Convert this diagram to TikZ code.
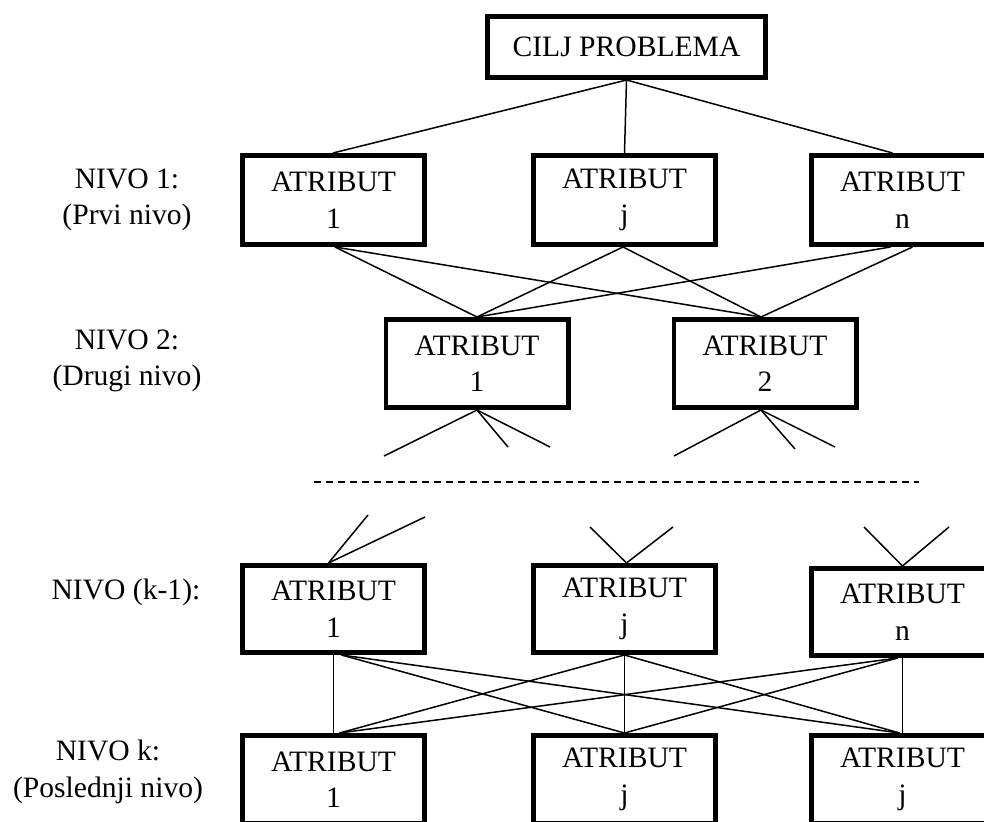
\documentclass[tikz,border=0pt]{standalone}
\usepackage{fontspec}
\setmainfont{Liberation Serif}
\newcommand\fsz{\fontsize{29.6bp}{36.5bp}\selectfont}
\begin{document}
\begin{tikzpicture}[x=1bp,y=-1bp,
  box/.style={draw, line width=4.8bp, inner sep=0pt, align=center,
              minimum width=182.2bp, minimum height=88.2bp, font=\fsz},
  lbl/.style={align=center, inner sep=0pt, font=\fsz},
  conn/.style={line width=1.5bp},
  dashline/.style={line width=1.5bp, dash pattern=on 7bp off 5bp}]
\clip (0,0) rectangle (984,822);
\fill[white] (0,0) rectangle (984,822);

% top
\node[box, minimum width=278.2bp, minimum height=61.2bp] (goal) at (626.5,47) {CILJ PROBLEMA};

% level 1
\node[box, minimum height=89.2bp] (a1) at (333.5,200) {ATRIBUT\\1};
\node[box, minimum height=89.2bp] (aj) at (624.5,200) {ATRIBUT\\j};
\node[box, minimum height=89.2bp] (an) at (902.5,200) {ATRIBUT\\n};
\node[lbl] (lab1) at (127,200) {NIVO 1:\\(Prvi nivo)};

% level 2
\node[box] (b1) at (477,363.5) {ATRIBUT\\1};
\node[box] (b2) at (765,363.5) {ATRIBUT\\2};
\node[lbl] (lab2) at (127,361) {NIVO 2:\\(Drugi nivo)};

% level k-1
\node[box, minimum height=87.2bp] (c1) at (333.5,609) {ATRIBUT\\1};
\node[box, minimum height=87.2bp] (cj) at (624.5,609) {ATRIBUT\\j};
\node[box, minimum height=87.2bp] (cn) at (902.5,612) {ATRIBUT\\n};
\node[lbl] (lab3) at (126,592) {NIVO (k-1):};

% level k
\node[box] (e1) at (333.5,779.5) {ATRIBUT\\1};
\node[box] (ej) at (624.5,779.5) {ATRIBUT\\j};
\node[box] (en) at (902.5,779.5) {ATRIBUT\\j};
\node[lbl] (lab4) at (108,772) {NIVO k:\\(Poslednji nivo)};

% goal to level 1
\draw[conn] (goal.south) -- ([xshift=-0.5bp]a1.north);
\draw[conn] (goal.south) -- (aj.north);
\draw[conn] (goal.south) -- ([xshift=-10bp]an.north);

% level 1 to level 2
\draw[conn] ([xshift=1.5bp]a1.south) -- (b1.north);
\draw[conn] ([xshift=1.5bp]a1.south) -- ([xshift=-4bp]b2.north);
\draw[conn] ([xshift=-1.5bp]aj.south) -- (b1.north);
\draw[conn] ([xshift=-1.5bp]aj.south) -- ([xshift=-4bp]b2.north);
\draw[conn] ([xshift=-12bp]an.south) -- (b1.north);
\draw[conn] ([xshift=10bp]an.south) -- ([xshift=-4bp]b2.north);

% fans below level 2
\coordinate (fa1) at (384,456);
\coordinate (fa2) at (508,447);
\coordinate (fa3) at (550,447);
\coordinate (fb1) at (674,456);
\coordinate (fb2) at (795,449);
\coordinate (fb3) at (835,447);
\draw[conn] (b1.south) -- (fa1);
\draw[conn] (b1.south) -- (fa2);
\draw[conn] (b1.south) -- (fa3);
\draw[conn] ([xshift=-4bp]b2.south) -- (fb1);
\draw[conn] ([xshift=-4bp]b2.south) -- (fb2);
\draw[conn] ([xshift=-4bp]b2.south) -- (fb3);

% dashed separator
\coordinate (d1) at (314,482);
\coordinate (d2) at (919,482);
\draw[dashline] (d1) -- (d2);

% fans above level k-1
\coordinate (ga1) at (368,515);
\coordinate (ga2) at (425,517);
\coordinate (gb1) at (590,527);
\coordinate (gb2) at (673,527);
\coordinate (gc1) at (864,527);
\coordinate (gc2) at (949,527);
\draw[conn] ([xshift=-5bp]c1.north) -- (ga1);
\draw[conn] ([xshift=-5bp]c1.north) -- (ga2);
\draw[conn] ([xshift=2bp]cj.north) -- (gb1);
\draw[conn] ([xshift=2bp]cj.north) -- (gb2);
\draw[conn] (cn.north) -- (gc1);
\draw[conn] (cn.north) -- (gc2);

% level k-1 to level k
\draw[conn] (c1.south) -- (e1.north);
\draw[conn] ([xshift=8bp]c1.south) -- (ej.north);
\draw[conn] ([xshift=8bp]c1.south) -- ([xshift=-3bp]en.north);
\draw[conn] (cj.south) -- ([xshift=6bp]e1.north);
\draw[conn] (cj.south) -- (ej.north);
\draw[conn] (cj.south) -- ([xshift=-3bp]en.north);
\draw[conn] ([xshift=-5bp]cn.south) -- ([xshift=6bp]e1.north);
\draw[conn] ([xshift=-5bp]cn.south) -- (ej.north);
\draw[conn] (cn.south) -- (en.north);
\end{tikzpicture}
\end{document}
